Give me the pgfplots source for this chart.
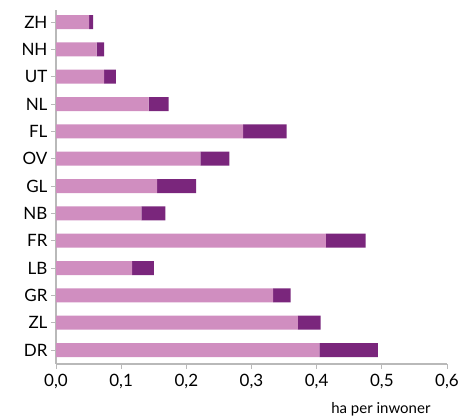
\documentclass[border=0pt]{standalone}
\usepackage{fontspec}
\setmainfont{Lato}
\usepackage{pgfplots}
\pgfplotsset{compat=1.18}
\usepackage{pgfplotstable}
\definecolor{lightp}{RGB}{208,142,192}
\definecolor{darkp}{RGB}{122,38,124}
\definecolor{axgray}{RGB}{185,185,185}
\pgfplotstableread{
y light dark
0 0.404 0.090
1 0.371 0.035
2 0.333 0.027
3 0.117 0.033
4 0.414 0.061
5 0.131 0.037
6 0.155 0.060
7 0.2215 0.0445
8 0.287 0.067
9 0.142 0.031
10 0.074 0.018
11 0.0625 0.0115
12 0.051 0.006
}\datatable
\begin{document}
\begin{tikzpicture}
\path[use as bounding box] (-56pt,-53pt) rectangle (407pt,364pt);
\begin{axis}[
  scale only axis,
  width=391pt, height=354pt,
  xbar stacked,
  bar width=14pt,
  xmin=0, xmax=0.6,
  ymin=-0.51, ymax=12.44,
  axis x line=bottom, axis y line=left,
  axis line style={-, axgray, line width=1.6pt},
  xtick={0,0.1,...,0.6},
  ytick={0,...,12},
  yticklabels={DR,ZL,GR,LB,FR,NB,GL,OV,FL,NL,UT,NH,ZH},
  tick align=outside,
  major tick length=5pt,
  tick style={axgray, line width=0.8pt},
  /pgf/number format/.cd, fixed, fixed zerofill, precision=1, use comma, assume math mode=true,
  /pgfplots/.cd,
  ticklabel style={font=\fontsize{17}{20}\selectfont, text=black},
  xticklabel style={yshift=-2pt},
  yticklabel style={xshift=0pt},
  xlabel={ha per inwoner},
  xlabel style={font=\fontsize{15}{18}\selectfont, at={(rel axis cs:1,0)}, anchor=base east, yshift=-49pt, xshift=-13pt},
]
\addplot[draw=none, fill=lightp] table[x=light, y=y] {\datatable};
\addplot[draw=none, fill=darkp] table[x=dark, y=y] {\datatable};
\end{axis}
\end{tikzpicture}
\end{document}
